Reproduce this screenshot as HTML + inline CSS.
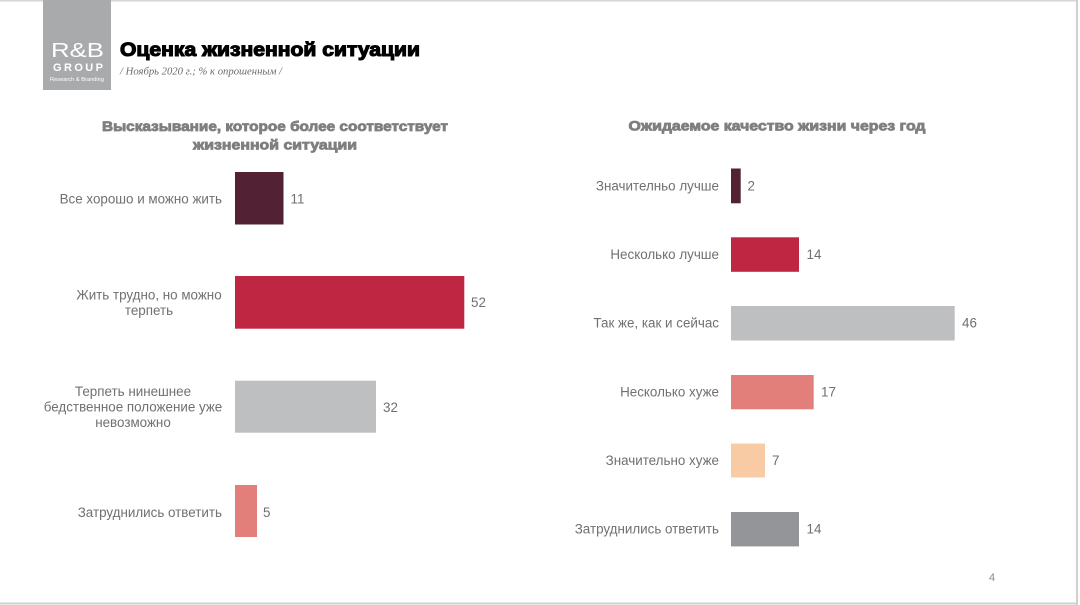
<!DOCTYPE html>
<html>
<head>
<meta charset="utf-8">
<style>
  html,body{margin:0;padding:0;background:#fff;}
  svg{display:block;}
  text{font-family:"Liberation Sans","DejaVu Sans",sans-serif;}
</style>
</head>
<body>
<svg width="1080" height="605" viewBox="0 0 1080 605" xmlns="http://www.w3.org/2000/svg">
  <rect x="0" y="0" width="1080" height="605" fill="#fff"/>
  <!-- frame lines -->
  <rect x="0" y="0" width="1078" height="1.5" fill="#d6d6d6"/>
  <rect x="1076" y="0" width="2" height="605" fill="#d0d0d0"/>
  <rect x="0" y="602.5" width="1078" height="2" fill="#d0d0d0"/>

  <!-- logo -->
  <rect x="43" y="0" width="68" height="90" fill="#a9aaac"/>
  <text x="51" y="57" font-size="20" fill="#fff" textLength="53" lengthAdjust="spacingAndGlyphs">R&amp;B</text>
  <text x="53" y="71" font-size="11" fill="#fff" font-weight="bold" textLength="50" lengthAdjust="spacing">GROUP</text>
  <text x="50" y="81" font-size="5" fill="#fff" textLength="54" lengthAdjust="spacingAndGlyphs">Research &amp; Branding</text>

  <!-- title -->
  <text x="120" y="56" font-size="19" font-weight="bold" fill="#000" stroke="#000" stroke-width="1.1" textLength="300" lengthAdjust="spacingAndGlyphs">Оценка жизненной ситуации</text>
  <text x="120" y="74.5" font-size="10" font-style="italic" fill="#6a6a6a" style="font-family:'Liberation Serif',serif" textLength="162" lengthAdjust="spacingAndGlyphs">/ Ноябрь 2020 г.; %  к опрошенным /</text>

  <!-- left chart title -->
  <text x="275" y="131" font-size="14" font-weight="bold" fill="#7f7f7f" stroke="#7f7f7f" stroke-width="0.8" text-anchor="middle" textLength="346" lengthAdjust="spacingAndGlyphs">Высказывание, которое более соответствует</text>
  <text x="275" y="149.5" font-size="14" font-weight="bold" fill="#7f7f7f" stroke="#7f7f7f" stroke-width="0.8" text-anchor="middle" textLength="164" lengthAdjust="spacingAndGlyphs">жизненной ситуации</text>

  <!-- left bars -->
  <rect x="235" y="172" width="48.5" height="52.5" fill="#522234"/>
  <rect x="235" y="276" width="229.3" height="52.7" fill="#be2641"/>
  <rect x="235" y="380.7" width="141" height="52" fill="#bebfc1"/>
  <rect x="235" y="485" width="22" height="52" fill="#e27f7a"/>

  <g font-size="13.4" fill="#707070">
    <text x="222" y="203.5" text-anchor="end">Все хорошо и можно жить</text>
    <text x="149" y="299.5" text-anchor="middle">Жить трудно, но можно</text>
    <text x="149" y="315" text-anchor="middle">терпеть</text>
    <text x="133" y="396" text-anchor="middle">Терпеть нинешнее</text>
    <text x="133" y="411.5" text-anchor="middle">бедственное положение уже</text>
    <text x="133" y="427" text-anchor="middle">невозможно</text>
    <text x="222" y="517" text-anchor="end">Затруднились ответить</text>

    <text x="290.5" y="203.5">11</text>
    <text x="471" y="307">52</text>
    <text x="383" y="412">32</text>
    <text x="263" y="517">5</text>
  </g>

  <!-- right chart title -->
  <text x="777" y="130.5" font-size="14" font-weight="bold" fill="#7f7f7f" stroke="#7f7f7f" stroke-width="0.8" text-anchor="middle" textLength="297" lengthAdjust="spacingAndGlyphs">Ожидаемое качество жизни через год</text>

  <!-- right bars -->
  <rect x="731" y="168.5" width="9.7" height="34.8" fill="#522234"/>
  <rect x="731" y="237.3" width="68" height="34.5" fill="#be2641"/>
  <rect x="731" y="306" width="223.7" height="34.5" fill="#bebfc1"/>
  <rect x="731" y="375" width="82.7" height="34.3" fill="#e27f7a"/>
  <rect x="731" y="443.5" width="34" height="34" fill="#f8cba5"/>
  <rect x="731" y="512" width="68" height="34.4" fill="#939598"/>

  <g font-size="13.4" fill="#707070">
    <text x="719" y="190.5" text-anchor="end">Значителньо лучше</text>
    <text x="719" y="259" text-anchor="end">Несколько лучше</text>
    <text x="719" y="327.7" text-anchor="end">Так же, как и сейчас</text>
    <text x="719" y="396.5" text-anchor="end">Несколько хуже</text>
    <text x="719" y="465" text-anchor="end">Значительно хуже</text>
    <text x="719" y="533.7" text-anchor="end">Затруднились ответить</text>

    <text x="747.5" y="190.5">2</text>
    <text x="806.5" y="259">14</text>
    <text x="962" y="327.7">46</text>
    <text x="821" y="396.5">17</text>
    <text x="772" y="465">7</text>
    <text x="806.5" y="533.7">14</text>
  </g>

  <!-- page number -->
  <text x="989" y="581" font-size="11" fill="#8a8a8a">4</text>
</svg>
</body>
</html>
